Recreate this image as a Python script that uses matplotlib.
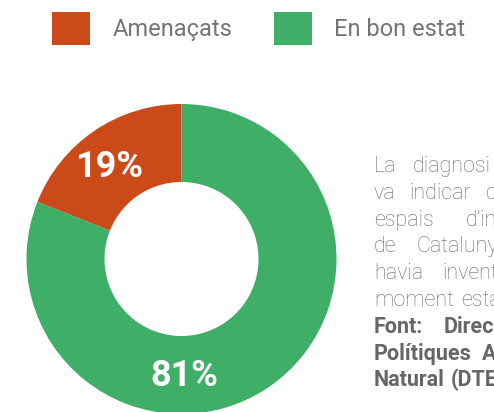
import matplotlib
matplotlib.use("Agg")
import matplotlib.pyplot as plt
from matplotlib.patches import Patch
import numpy as np

categories = ["Amenaçats", "En bon estat"]
values = [19, 81]
labels = ["19%", "81%"]
colors = ["#cb4a19", "#3fae67"]

para_lines = [
    ["La", "diagnosi"],
    ["va", "indicar", "com"],
    ["espais", "d’interès"],
    ["de", "Catalunya"],
    ["havia", "inventariat"],
    ["moment", "estaven"],
]
source_lines = [
    ["Font:", "Direcció"],
    ["Polítiques", "Ambientals"],
    ["Natural", "(DTES)"],
]

W, H = 494, 412
fig = plt.figure(figsize=(W / 100, H / 100), dpi=100)
ax = fig.add_axes([0, 0, 1, 1])

cx, cy = 181.5, H - 259
R, r = 155, 77
wedges, _ = ax.pie(values, colors=colors, startangle=90, counterclock=True,
                   radius=R, center=(cx, cy),
                   wedgeprops=dict(width=R - r, edgecolor="none"))
ax.set_xlim(0, W)
ax.set_ylim(0, H)
ax.set_aspect("equal")
ax.axis("off")

# percentage labels
mid = 117
label_angles = [128, 271.5]
for lab, ang in zip(labels, label_angles):
    t = np.deg2rad(ang)
    ax.text(cx + mid * np.cos(t), cy + mid * np.sin(t), lab,
            ha="center", va="center", color="white", fontsize=26,
            fontweight="bold", family="Roboto")

# legend
handles = [Patch(facecolor=c, edgecolor="none") for c in colors]
leg = ax.legend(handles, categories, ncol=2, loc="upper left",
                bbox_to_anchor=(52 / W, 1 - 12 / H), frameon=False,
                borderpad=0, borderaxespad=0, handlelength=1.62,
                handleheight=1.75, handletextpad=0.95, columnspacing=1.75,
                prop=dict(family="Roboto", size=17))
for t in leg.get_texts():
    t.set_color("#757575")

# paragraph text (justified, clipped at figure edge)
word_x = [
    [374, 413],
    [374, 409, 486],
    [374, 466],
    [374, 416],
    [374, 442],
    [374, 461],
    [374, 444],
    [374, 482],
    [374, 451],
]
base0 = 172
step = 26.8
all_lines = para_lines + source_lines
for i, words in enumerate(all_lines):
    bold = i >= len(para_lines)
    yb = H - (base0 + i * step)
    for w, x in zip(words, word_x[i]):
        ax.text(x, yb, w, ha="left", va="baseline", fontsize=15.5,
                family="Roboto", fontweight="bold" if bold else "light",
                color="#666666" if bold else "#6a6a6a")

fig.savefig("out.png", dpi=100)
